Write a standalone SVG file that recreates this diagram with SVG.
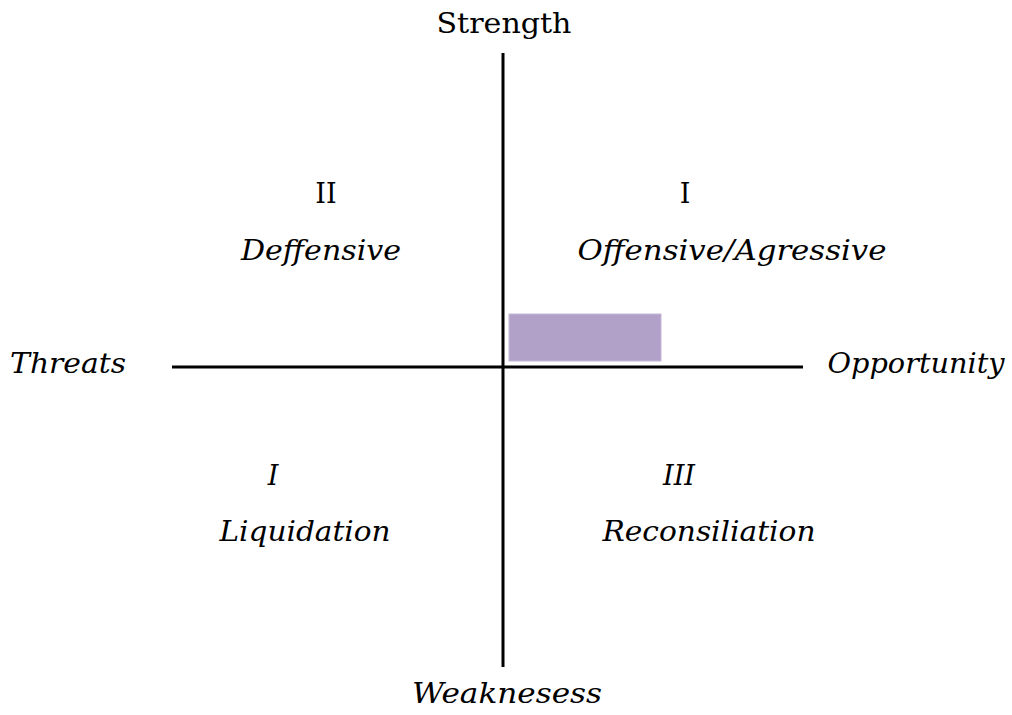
<svg xmlns="http://www.w3.org/2000/svg" width="1012" height="715" viewBox="0 0 1012 715">
<style>
text{font-family:"DejaVu Serif","Liberation Serif",serif;font-size:27px;fill:#000;text-anchor:middle}
.i{font-style:italic}
.ax{stroke:#000;stroke-width:3;fill:none}
</style>
<rect width="1012" height="715" fill="#fff"/>
<g id="connectors">
<line class="ax" x1="172" y1="367" x2="803" y2="367"/>
<line class="ax" x1="503" y1="53" x2="503" y2="667"/>
</g>
<g id="highlight"><rect x="509" y="314" width="152" height="47" fill="#b1a0c7" stroke="#c4b8d6" stroke-width="1"/></g>
<g id="strength"><text x="504" y="33" textLength="135" lengthAdjust="spacingAndGlyphs">Strength</text></g>
<g id="weakness"><text class="i" x="507" y="703" textLength="190" lengthAdjust="spacingAndGlyphs">Weaknesess</text></g>
<g id="threats"><text class="i" x="68" y="373" textLength="116" lengthAdjust="spacingAndGlyphs">Threats</text></g>
<g id="opportunity"><text class="i" x="916" y="373" textLength="177" lengthAdjust="spacingAndGlyphs">Opportunity</text></g>
<g id="q2"><text x="326" y="203">II</text><text class="i" x="321" y="260" textLength="160" lengthAdjust="spacingAndGlyphs">Deffensive</text></g>
<g id="q1"><text x="685" y="203">I</text><text class="i" x="732" y="260" textLength="309" lengthAdjust="spacingAndGlyphs">Offensive/Agressive</text></g>
<g id="q4"><text class="i" x="273" y="485">I</text><text class="i" x="305" y="541" textLength="171" lengthAdjust="spacingAndGlyphs">Liquidation</text></g>
<g id="q3"><text class="i" x="679" y="485">III</text><text class="i" x="709" y="541" textLength="213" lengthAdjust="spacingAndGlyphs">Reconsiliation</text></g>
</svg>
